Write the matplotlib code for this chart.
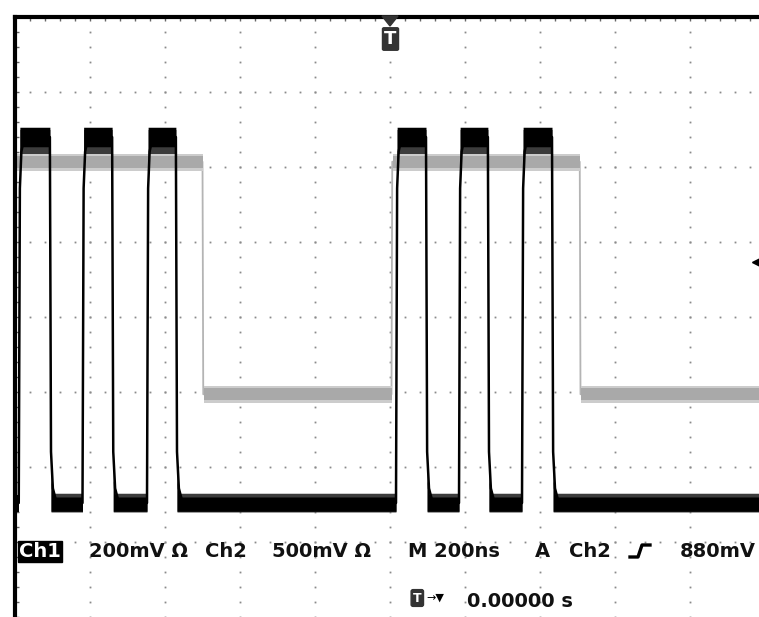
import numpy as np
import matplotlib
matplotlib.use("Agg")
import matplotlib.pyplot as plt
from matplotlib.patches import Polygon, FancyBboxPatch
from matplotlib.lines import Line2D

# scope settings (time in ns, levels in volts)
time_per_div = 200
ch1_volts_per_div = 0.2
ch2_volts_per_div = 0.5
ch1_position = -2.48   # ground marker, divisions
ch2_position = -1.03
trigger_level = 0.88

# Ch1 (black) pulse edges
ch1_rise = [-990, -820, -648, 16, 184, 352]
ch1_fall = [-907, -741, -571, 96, 261, 432]
ch1_low, ch1_high = 0.0, 0.976

# Ch2 (grey) edges, starts high
ch2_edges = [-500, 4, 506]
ch2_low, ch2_high = 0.0, 1.55

W, H = 759, 617
fig = plt.figure(figsize=(W / 100, H / 100), dpi=100)
fig.patch.set_facecolor("white")
# screen: 10 x 8 divisions, 75 px each, left edge at x=15, top at y=17
ax = fig.add_axes([15 / W, 0, 750 / W, 600 / H])
ax.set_xlim(-5 * time_per_div, 5 * time_per_div)
ax.set_ylim(-4, 4)
ax.set_facecolor("white")


def ch1_div(v):
    return np.asarray(v) / ch1_volts_per_div + ch1_position


def ch2_div(v):
    return np.asarray(v) / ch2_volts_per_div + ch2_position


# graticule dots
dot_kw = dict(ls="", marker="s", ms=1.3, mec="none", mfc="#8a8a8a", zorder=1)
ys = np.arange(-4, 4.01, 0.2)
xs = np.arange(-1000, 1001, 40)
for k in range(-4, 5):
    ax.plot(np.full(len(ys), k * time_per_div), ys, **dot_kw)
for j in range(-3, 4):
    ax.plot(xs, np.full(len(xs), j), **dot_kw)

# ---- Ch2 trace (grey)
t2 = [-1000]
v2 = [ch2_high]
state = ch2_high
for e in ch2_edges:
    new = ch2_low if state == ch2_high else ch2_high
    t2 += [e, e + 2]
    v2 += [state, new]
    state = new
t2.append(1000)
v2.append(state)
t2 = np.array(t2)
y2 = ch2_div(v2)
ax.plot(t2, y2, color="#b4b4b4", lw=1.3, zorder=2)
# noise band on flat parts
for i in range(0, len(t2) - 1, 2):
    a, b = t2[i] + (2 if i else 0), t2[i + 1]
    lvl = y2[i + 1] if i else y2[0]
    ax.fill_between([a, b], lvl - 0.12, lvl + 0.11, color="#cccccc", lw=0, zorder=2)
    ax.fill_between([a, b], lvl - 0.08, lvl + 0.08, color="#a9a9a9", lw=0, zorder=2)

# ---- Ch1 trace (black) with rounded knees
amp = ch1_high - ch1_low
t1 = [-1000]
v1 = [ch1_low]
for r, f in zip(ch1_rise, ch1_fall):
    t1 += [r, r + 3, r + 7, r + 15, f, f + 3, f + 8, f + 18]
    v1 += [ch1_low, ch1_low + 0.86 * amp, ch1_low + 0.96 * amp, ch1_high,
           ch1_high, ch1_high - 0.86 * amp, ch1_high - 0.96 * amp, ch1_low]
t1.append(1000)
v1.append(ch1_low)
y1 = ch1_div(v1)
ax.plot(t1, y1, color="black", lw=1.8, zorder=4)

hi = ch1_div(ch1_high)
lo = ch1_div(ch1_low)
for r, f in zip(ch1_rise, ch1_fall):
    ax.fill_between([r + 3, r + 7, f], [hi - 0.5, hi - 0.22, hi - 0.22],
                    hi + 0.1, color="#3c3c3c", lw=0, zorder=3)
    ax.fill_between([r + 3, r + 7, f], [hi - 0.35, hi - 0.13, hi - 0.13],
                    hi + 0.13, color="black", lw=0, zorder=4)
lows = [(-1000, ch1_rise[0])] + list(zip(ch1_fall, ch1_rise[1:] + [1000]))
for a, b in lows:
    if a == -1000:
        ax.fill_between([a, b], lo - 0.12, lo + 0.11, color="black", lw=0, zorder=4)
        continue
    ax.fill_between([a + 3, a + 8, b], [lo + 0.45, lo + 0.13, lo + 0.13],
                    lo - 0.12, color="#3c3c3c", lw=0, zorder=3)
    ax.fill_between([a + 3, a + 8, a + 14, b], [lo + 0.3, lo + 0.12, lo + 0.08, lo + 0.08],
                    lo - 0.11, color="black", lw=0, zorder=4)

# trigger level marker on the right edge
ax.plot(990, ch2_div(trigger_level), marker="<", ms=13, color="black",
        clip_on=False, zorder=6)

# borders and edge ticks
for s in ["right", "bottom"]:
    ax.spines[s].set_visible(False)
for s in ["left", "top"]:
    ax.spines[s].set_linewidth(3)
    ax.spines[s].set_color("black")
ax.set_xticks(xs)
ax.set_yticks(ys)
ax.tick_params(direction="in", length=3, width=1, color="#666666",
               top=True, bottom=False, left=True, right=False,
               labelbottom=False, labelleft=False)


def fx(x):
    return x / W


def fy(y):
    return 1 - y / H


# trigger position marker at top
fig.patches.append(Polygon([[fx(382), fy(16)], [fx(398), fy(16)], [fx(390), fy(26)]],
                           closed=True, transform=fig.transFigure,
                           color="#333333", zorder=10))
fig.patches.append(FancyBboxPatch((fx(384), fy(49)), fx(13), 20 / H,
                                  boxstyle="round,pad=0.002", transform=fig.transFigure,
                                  fc="#333333", ec="#333333", zorder=10))
fig.text(fx(390.5), fy(39), "T", color="white", fontsize=13, fontweight="bold",
         ha="center", va="center", zorder=11)

# status line
fs = 14
txt = dict(fontsize=fs, fontweight="bold", va="baseline", color="#111111")
base = fy(557)
fig.text(fx(19), base, "Ch1", **{**txt, "color": "white"},
         bbox=dict(boxstyle="square,pad=0.05", fc="black", ec="black"))
fig.text(fx(89), base, "200mV Ω", **txt)
fig.text(fx(205), base, "Ch2", **txt)
fig.text(fx(272), base, "500mV Ω", **txt)
fig.text(fx(408), base, "M 200ns", **txt)
fig.text(fx(535), base, "A", **txt)
fig.text(fx(569), base, "Ch2", **txt)
fig.lines.append(Line2D([fx(630), fx(638), fx(642), fx(650)],
                        [fy(557), fy(557), fy(545), fy(545)],
                        transform=fig.transFigure, color="black", lw=2.4))
fig.text(fx(680), base, "880mV", **txt)

base2 = fy(607)
fig.text(fx(413), fy(598), "T", color="white", fontsize=9, fontweight="bold",
         va="center", bbox=dict(boxstyle="round,pad=0.15", fc="#333333", ec="#333333"))
fig.text(fx(426), fy(598), "→▼", fontsize=8, va="center")
fig.text(fx(467), base2, "0.00000 s", **txt)

fig.savefig("out.png", dpi=100)
